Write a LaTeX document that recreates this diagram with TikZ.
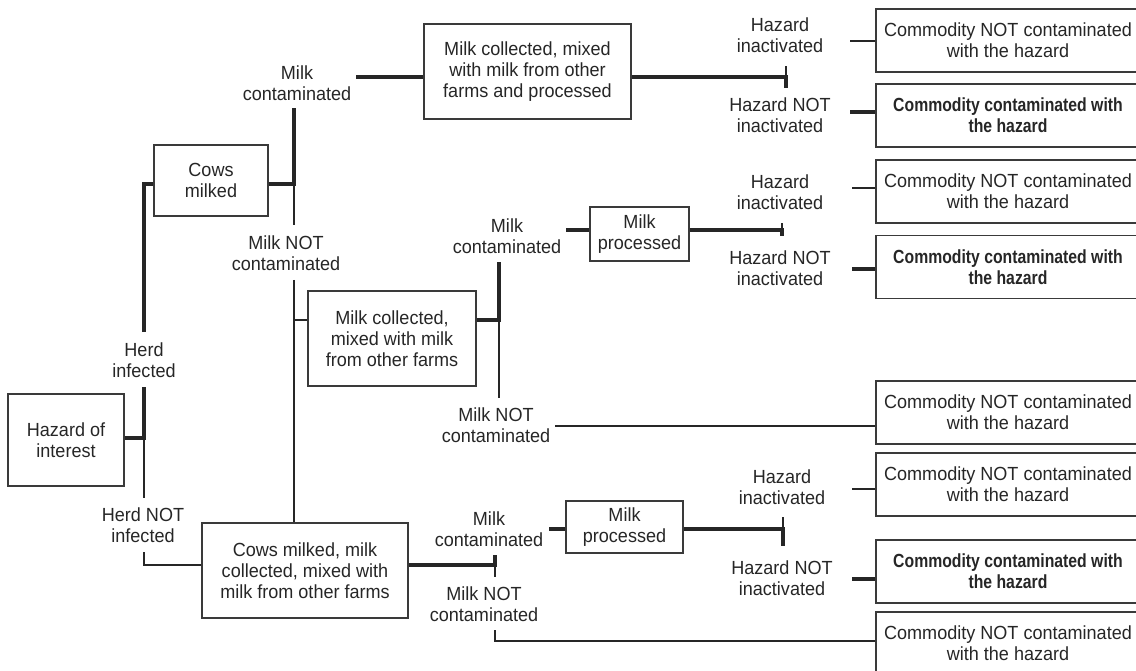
\documentclass[tikz,border=0pt]{standalone}
\usepackage{fontspec}
\setmainfont{Liberation Sans}[FakeStretch=0.95,BoldFeatures={FakeStretch=0.83}]
\definecolor{ink}{HTML}{262626}
\definecolor{frame}{HTML}{3A3A3A}
\begin{document}
\begin{tikzpicture}[x=1pt,y=-1pt,
  every node/.style={font=\fontsize{19}{21}\selectfont,text=ink},
  box/.style={draw=frame,line width=1.4pt,align=center,inner sep=0pt},
  cbox/.style={box,minimum width=264pt,minimum height=63pt},
  lbl/.style={align=center,inner sep=0pt},
  thk/.style={draw=ink,line width=3.2pt},
  thn/.style={draw=ink,line width=1.3pt}]
\useasboundingbox (0,0) rectangle (1136,671);
\begin{scope}
\clip (0,0) rectangle (1136,671);

% process boxes
\node[box,minimum width=116pt,minimum height=92pt] (root) at (66,440) {Hazard of\\interest};
\node[box,minimum width=114pt,minimum height=71pt] (cows) at (211,180.5) {Cows\\milked};
\node[box,minimum width=207pt,minimum height=95pt] (pone) at (527.5,71.5) {Milk collected, mixed\\with milk from other\\farms and processed};
\node[box,minimum width=168pt,minimum height=95pt] (mix) at (392,338.5) {Milk collected,\\mixed with milk\\from other farms};
\node[box,minimum width=99pt,minimum height=54pt] (procA) at (639.5,234) {Milk\\processed};
\node[box,minimum width=206pt,minimum height=95pt] (all) at (305,570.5) {Cows milked, milk\\collected, mixed with\\milk from other farms};
\node[box,minimum width=117pt,minimum height=52pt] (procB) at (624.5,527) {Milk\\processed};

% outcome boxes
\node[cbox] (c1) at (1008,40.5) {Commodity NOT contaminated\\with the hazard};
\node[cbox] (c2) at (1008,115.5) {\bfseries Commodity contaminated with\\\bfseries the hazard};
\node[cbox] (c3) at (1008,191.5) {Commodity NOT contaminated\\with the hazard};
\node[cbox] (c4) at (1008,267) {\bfseries Commodity contaminated with\\\bfseries the hazard};
\node[cbox] (c5) at (1008,412.5) {Commodity NOT contaminated\\with the hazard};
\node[cbox] (c6) at (1008,484.5) {Commodity NOT contaminated\\with the hazard};
\node[cbox] (c7) at (1008,571.5) {\bfseries Commodity contaminated with\\\bfseries the hazard};
\node[cbox] (c8) at (1008,643.5) {Commodity NOT contaminated\\with the hazard};
\end{scope}

% branch labels
\node[lbl] (herdinf) at (144,360) {Herd\\infected};
\node[lbl] (herdnot) at (143,525) {Herd NOT\\infected};
\node[lbl] (mcA) at (297,83) {Milk\\contaminated};
\node[lbl] (mnA) at (286,253) {Milk NOT\\contaminated};
\node[lbl] (mcB) at (507,236) {Milk\\contaminated};
\node[lbl] (mnB) at (496,425) {Milk NOT\\contaminated};
\node[lbl] (mcC) at (489,529) {Milk\\contaminated};
\node[lbl] (mnC) at (484,604) {Milk NOT\\contaminated};
\node[lbl] (hiA) at (780,35) {Hazard\\inactivated};
\node[lbl] (hnA) at (780,115) {Hazard NOT\\inactivated};
\node[lbl] (hiB) at (780,192) {Hazard\\inactivated};
\node[lbl] (hnB) at (780,268) {Hazard NOT\\inactivated};
\node[lbl] (hiC) at (782,487) {Hazard\\inactivated};
\node[lbl] (hnC) at (782,578) {Hazard NOT\\inactivated};

% junctions and line ends beside the labels
\coordinate (j0) at (144,438);
\coordinate (herdinfS) at (144,387);
\coordinate (herdinfN) at (144,332);
\coordinate (cowsIn) at (144,184);
\coordinate (herdnotN) at (144,498);
\coordinate (herdnotS) at (144,552);
\coordinate (allIn) at (144,565);
\coordinate (j1) at (294,184);
\coordinate (mcAS) at (294,108);
\coordinate (mcAE) at (356,77);
\coordinate (mnAN) at (294,225);
\coordinate (mnAS) at (294,280);
\coordinate (mixIn) at (294,320);
\coordinate (j2) at (786,77);
\coordinate (j2u) at (786,66);
\coordinate (j2d) at (786,88);
\coordinate (hiAE) at (850,41);
\coordinate (hnAE) at (850,112);
\coordinate (j3) at (499,320);
\coordinate (mcBS) at (499,262);
\coordinate (mnBN) at (499,398);
\coordinate (mcBE) at (566,230);
\coordinate (mnBE) at (555,426);
\coordinate (j4) at (782,230);
\coordinate (j4u) at (782,223);
\coordinate (j4d) at (782,236);
\coordinate (hiBE) at (852,188);
\coordinate (hnBE) at (852,269);
\coordinate (j5) at (495,565);
\coordinate (j5u) at (495,555);
\coordinate (j5d) at (495,577);
\coordinate (mcCE) at (549,529);
\coordinate (mnCS) at (495,630);
\coordinate (mnCE) at (495,641);
\coordinate (j6) at (783,529);
\coordinate (j6u) at (783,517);
\coordinate (j6d) at (783,546);
\coordinate (hiCE) at (852,489);
\coordinate (hnCE) at (852,579);

% hazard of interest
\draw[thk] (j0 -| root.east) -- (j0) -- (herdinfS);
\draw[thn] (j0) -- (herdnotN);
\draw[thk] (herdinfN) -- (cowsIn) -- (cowsIn -| cows.west);
\draw[thn] (herdnotS) -- (allIn) -- (allIn -| all.west);

% cows milked
\draw[thk] (j1 -| cows.east) -- (j1) -- (mcAS);
\draw[thn] (j1) -- (mnAN);
\draw[thk] (mcAE) -- (mcAE -| pone.west);
\draw[thn] (mnAS) -- (mnAS |- all.north);
\draw[thn] (mixIn) -- (mixIn -| mix.west);

% collected and processed
\draw[thk] (j2 -| pone.east) -- (j2) -- (j2d);
\draw[thn] (j2) -- (j2u);
\draw[thn] (hiAE) -- (hiAE -| c1.west);
\draw[thk] (hnAE) -- (hnAE -| c2.west);

% collected and mixed
\draw[thk] (j3 -| mix.east) -- (j3) -- (mcBS);
\draw[thn] (j3) -- (mnBN);
\draw[thk] (mcBE) -- (mcBE -| procA.west);
\draw[thn] (mnBE) -- (mnBE -| c5.west);
\draw[thk] (j4 -| procA.east) -- (j4) -- (j4d);
\draw[thn] (j4) -- (j4u);
\draw[thn] (hiBE) -- (hiBE -| c3.west);
\draw[thk] (hnBE) -- (hnBE -| c4.west);

% herd not infected
\draw[thk] (j5 -| all.east) -- (j5) -- (j5u);
\draw[thn] (j5) -- (j5d);
\draw[thk] (mcCE) -- (mcCE -| procB.west);
\draw[thn] (mnCS) -- (mnCE) -- (mnCE -| c8.west);
\draw[thk] (j6 -| procB.east) -- (j6) -- (j6d);
\draw[thn] (j6) -- (j6u);
\draw[thn] (hiCE) -- (hiCE -| c6.west);
\draw[thk] (hnCE) -- (hnCE -| c7.west);
\end{tikzpicture}
\end{document}
